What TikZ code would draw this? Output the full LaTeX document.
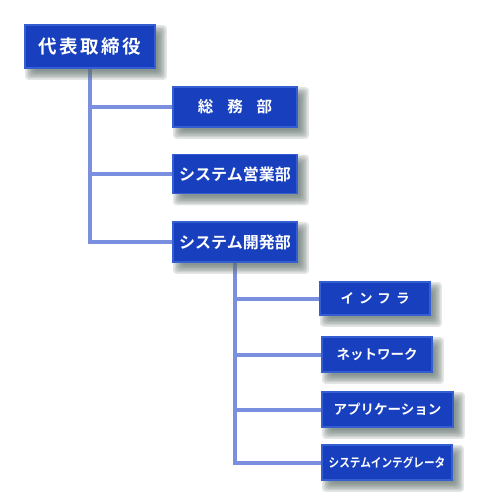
\documentclass[tikz,border=0pt]{standalone}
\usepackage{fontspec}
\newfontfamily\jp{Noto Sans CJK JP}[BoldFont={* Bold}]
\usetikzlibrary{calc}
\definecolor{boxblue}{RGB}{24,64,190}
\definecolor{boxedge}{RGB}{52,94,210}
\definecolor{linec}{RGB}{123,143,224}
\definecolor{shadowc}{RGB}{95,112,105}
\pgfdeclarelayer{lines}\pgfdeclarelayer{shadow}
\pgfsetlayers{lines,shadow,main}
\newcommand{\boxshadow}[1]{%
  \begin{pgfonlayer}{shadow}
    \foreach \d in {-5,-3.5,-2,-0.5,1,2.5,4}{%
      \fill[shadowc, opacity=0.17, rounded corners=3pt]
        ($(#1.north west)+(6+\d,6+\d)$) rectangle ($(#1.south east)+(6-\d,6-\d)$);
    }
  \end{pgfonlayer}}
\begin{document}
\begin{tikzpicture}[x=1pt,y=-1pt,
  orgbox/.style={fill=boxblue, draw=boxedge, line width=1.6pt, inner sep=0pt, text=white},
  conn/.style={draw=linec, line width=4pt}]
\begin{pgfonlayer}{lines}
\fill[white] (0,0) rectangle (500,500);
\end{pgfonlayer}
\useasboundingbox (0,0) rectangle (500,500);

\node[orgbox, minimum width=130pt, minimum height=43pt,
  font={\jp\bfseries\fontsize{18.5}{20}\selectfont}] (A) at (90,46.5)
  {代\hspace{2.5pt}表\hspace{2.5pt}取\hspace{2.5pt}締\hspace{2.5pt}役};

\node[orgbox, minimum width=124pt, minimum height=40pt,
  font={\jp\bfseries\fontsize{15.5}{17}\selectfont}] (B1) at (235,107)
  {総\hspace{14pt}務\hspace{14pt}部};
\node[orgbox, minimum width=124pt, minimum height=39pt,
  font={\jp\bfseries\fontsize{16}{17}\selectfont}] (B2) at (235,174)
  {システム営業部};
\node[orgbox, minimum width=124pt, minimum height=40pt,
  font={\jp\bfseries\fontsize{16}{17}\selectfont}] (B3) at (235,242)
  {システム開発部};

\node[orgbox, minimum width=110pt, minimum height=33pt,
  font={\jp\bfseries\fontsize{13.5}{15}\selectfont}] (C1) at (375,298.5)
  {イ\hspace{5pt}ン\hspace{5pt}フ\hspace{5pt}ラ};
\node[orgbox, minimum width=110pt, minimum height=35pt,
  font={\jp\bfseries\fontsize{13.5}{15}\selectfont}] (C2) at (377,354.5)
  {ネットワーク};
\node[orgbox, minimum width=131pt, minimum height=35pt,
  font={\jp\bfseries\fontsize{13.5}{15}\selectfont}] (C3) at (387.5,409.5)
  {アプリケーション};
\node[orgbox, minimum width=130pt, minimum height=35pt,
  font={\jp\bfseries\fontsize{12.5}{14}\selectfont}] (C4) at (387,462.5)
  {\scalebox{0.85}[1]{システムインテグレータ}};

\foreach \n in {A,B1,B2,B3,C1,C2,C3,C4}{\boxshadow{\n}}

\begin{pgfonlayer}{lines}
\draw[conn] (A.south) |- (B1.west);
\draw[conn] (A.south) |- (B2.west);
\draw[conn] (A.south) |- (B3.west);
\draw[conn] (B3.south) |- (C1.west);
\draw[conn] (B3.south) |- (C2.west);
\draw[conn] (B3.south) |- (C3.west);
\draw[conn] (B3.south) |- (C4.west);
\end{pgfonlayer}
\end{tikzpicture}
\end{document}
